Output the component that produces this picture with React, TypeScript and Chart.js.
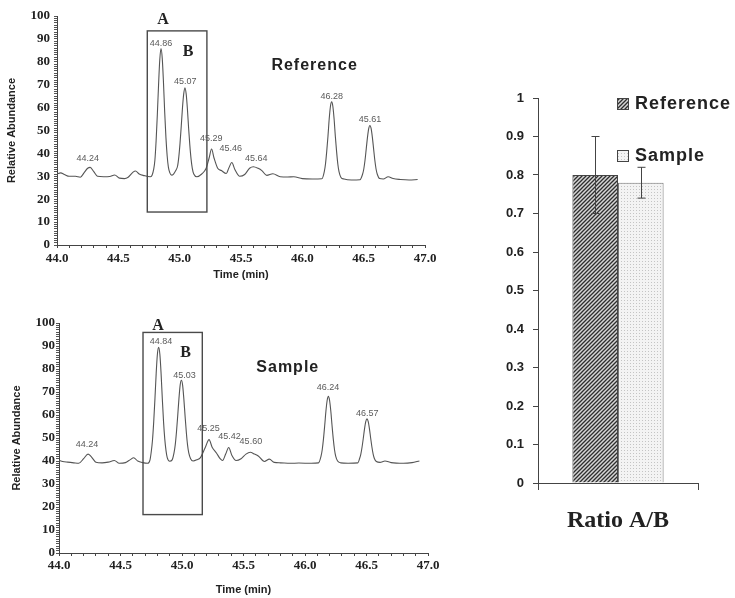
import { useEffect, useRef } from 'react';
import { Chart, registerables } from 'chart.js';

Chart.register(...registerables);

const SERIF = '"Liberation Serif", "Times New Roman", serif';
const SANS = '"Liberation Sans", Arial, sans-serif';

// ---------- Reference chromatogram: [time (min), relative abundance] ----------
const refTrace: number[][] = [
  [44.0, 31.0], [44.03, 31.5], [44.06, 30.8], [44.1, 30.0], [44.15, 30.0], [44.19, 29.6], [44.22, 31.5],
  [44.25, 33.5], [44.27, 33.9], [44.3, 32.0], [44.33, 30.0], [44.38, 29.8], [44.43, 29.9], [44.47, 30.6],
  [44.51, 29.2], [44.55, 29.0], [44.58, 29.6], [44.62, 31.8], [44.64, 32.3], [44.67, 31.0], [44.71, 30.3],
  [44.76, 29.8], [44.775, 30.5], [44.788, 33.0], [44.798, 37.0], [44.808, 45.5], [44.818, 57.0],
  [44.828, 70.0], [44.838, 81.0], [44.848, 85.8], [44.858, 81.5], [44.868, 71.0], [44.878, 58.0],
  [44.888, 47.0], [44.898, 39.0], [44.908, 34.0], [44.92, 31.5], [44.935, 30.5], [44.95, 31.0],
  [44.968, 32.5], [44.983, 34.5], [44.993, 38.5], [45.003, 44.5], [45.013, 52.0], [45.023, 60.0],
  [45.033, 66.0], [45.043, 68.7], [45.053, 66.0], [45.063, 59.5], [45.073, 51.0], [45.083, 43.5],
  [45.093, 37.5], [45.103, 33.5], [45.115, 31.0], [45.14, 29.8], [45.18, 31.0], [45.215, 33.4],
  [45.24, 38.0], [45.26, 41.9], [45.28, 38.0], [45.31, 33.5], [45.34, 32.5], [45.38, 31.2], [45.4, 33.5],
  [45.425, 36.0], [45.45, 33.0], [45.49, 30.0], [45.53, 30.8], [45.57, 33.5], [45.6, 34.2], [45.64, 33.5],
  [45.67, 32.5], [45.71, 30.4], [45.76, 31.1], [45.82, 29.8], [45.88, 29.7], [45.93, 29.8], [46.0, 29.0],
  [46.08, 28.8], [46.16, 28.9], [46.179, 32.0], [46.189, 35.5], [46.199, 41.0], [46.209, 47.5],
  [46.219, 55.0], [46.229, 60.5], [46.239, 62.5], [46.249, 60.5], [46.259, 55.0], [46.269, 47.5],
  [46.279, 41.0], [46.289, 35.5], [46.299, 32.0], [46.315, 29.5], [46.34, 28.8], [46.4, 28.4],
  [46.47, 28.5], [46.491, 30.9], [46.501, 33.2], [46.511, 37.0], [46.521, 42.0], [46.531, 47.0],
  [46.541, 50.8], [46.551, 52.2], [46.561, 50.8], [46.571, 47.0], [46.581, 42.0], [46.591, 37.0],
  [46.601, 33.2], [46.611, 30.9], [46.63, 29.0], [46.66, 28.8], [46.7, 29.8], [46.74, 29.0], [46.8, 28.6],
  [46.87, 28.4], [46.94, 28.6],
];
const refPeakText = ['44.24', '44.86', '45.07', '45.29', '45.46', '45.64', '46.28', '45.61'];
const refPeakTime = [44.25, 44.847, 45.045, 45.257, 45.417, 45.624, 46.24, 46.552];
const refPeakLevel = [37.8, 88.2, 71.5, 46.5, 42.2, 37.8, 65.0, 54.8];
const refBox = [44.736, 45.222, 14.4, 93.5];
const refLetterTime = [44.864, 45.068];
const refLetterLevel = [98.1, 84.2];
const refTitleAt = [46.1, 78.5];

// ---------- Sample chromatogram: [time (min), relative abundance] ----------
const sampleTrace: number[][] = [
  [44.0, 40.3], [44.03, 39.8], [44.07, 39.5], [44.12, 39.2], [44.16, 39.0], [44.2, 41.0], [44.236, 43.0],
  [44.26, 42.0], [44.3, 39.5], [44.35, 39.2], [44.4, 39.5], [44.45, 40.2], [44.49, 39.0], [44.54, 39.3],
  [44.58, 40.6], [44.607, 41.4], [44.64, 40.0], [44.68, 39.3], [44.72, 39.0], [44.74, 40.5], [44.75, 44.0],
  [44.76, 49.0], [44.77, 57.0], [44.78, 67.0], [44.79, 78.0], [44.8, 86.4], [44.81, 89.4], [44.82, 86.4],
  [44.83, 78.0], [44.84, 67.0], [44.85, 57.0], [44.86, 49.5], [44.87, 44.5], [44.88, 41.5], [44.9, 39.9],
  [44.92, 40.5], [44.935, 43.5], [44.945, 47.0], [44.955, 52.6], [44.965, 59.6], [44.975, 67.0],
  [44.985, 73.0], [44.995, 75.1], [45.005, 73.0], [45.015, 67.0], [45.025, 59.6], [45.035, 52.6],
  [45.045, 47.0], [45.055, 43.5], [45.07, 41.0], [45.09, 40.0], [45.12, 40.5], [45.15, 41.5], [45.19, 46.0],
  [45.22, 49.3], [45.245, 46.0], [45.28, 43.5], [45.31, 41.0], [45.33, 40.2], [45.355, 43.0], [45.38, 45.9],
  [45.405, 42.5], [45.44, 40.2], [45.48, 41.0], [45.52, 43.0], [45.555, 43.8], [45.59, 43.0], [45.62, 42.2],
  [45.67, 39.8], [45.71, 40.8], [45.75, 39.4], [45.8, 39.2], [45.88, 39.0], [45.95, 39.1], [46.05, 39.0],
  [46.11, 39.2], [46.13, 42.0], [46.14, 44.9], [46.15, 49.5], [46.16, 55.3], [46.17, 61.6], [46.18, 66.3],
  [46.19, 68.1], [46.2, 66.3], [46.21, 61.6], [46.22, 55.3], [46.23, 49.5], [46.24, 44.9], [46.25, 42.0],
  [46.265, 40.0], [46.29, 39.2], [46.35, 39.0], [46.43, 39.2], [46.444, 41.1], [46.454, 43.0],
  [46.464, 46.1], [46.474, 49.9], [46.484, 54.0], [46.494, 57.1], [46.504, 58.3], [46.514, 57.1],
  [46.524, 54.0], [46.534, 49.9], [46.544, 46.1], [46.554, 43.0], [46.564, 41.1], [46.58, 39.8],
  [46.61, 39.4], [46.65, 40.0], [46.7, 39.3], [46.8, 39.0], [46.87, 39.3], [46.93, 40.0],
];
const samplePeakText = ['44.24', '44.84', '45.03', '45.25', '45.42', '45.60', '46.24', '46.57'];
const samplePeakTime = [44.228, 44.83, 45.02, 45.215, 45.387, 45.56, 46.187, 46.507];
const samplePeakLevel = [47.1, 92.0, 77.1, 54.3, 50.6, 48.4, 72.0, 60.6];
const sampleBox = [44.683, 45.165, 16.7, 95.9];
const sampleLetterTime = [44.805, 45.03];
const sampleLetterLevel = [98.7, 87.0];
const sampleTitleAt = [45.86, 80.4];

const letters = ['A', 'B'];

// ---------- Ratio bar chart ----------
const barCategories = ['Ratio A/B'];
const ratioSeries = ['Reference', 'Sample'];
const ratioValues = [0.8, 0.78];
const ratioLow = [0.7, 0.74];
const ratioHigh = [0.9, 0.82];

function makeHatch(): CanvasPattern | string {
  const c = document.createElement('canvas');
  c.width = 4;
  c.height = 4;
  const g = c.getContext('2d');
  if (!g) return '#777';
  g.fillStyle = '#d6d6d6';
  g.fillRect(0, 0, 4, 4);
  g.strokeStyle = '#2e2e2e';
  g.lineWidth = 1.3;
  g.beginPath();
  g.moveTo(-1, 5); g.lineTo(5, -1);
  g.moveTo(-1, 1); g.lineTo(1, -1);
  g.moveTo(3, 5); g.lineTo(5, 3);
  g.stroke();
  return g.createPattern(c, 'repeat') || '#777';
}

function makeDots(): CanvasPattern | string {
  const c = document.createElement('canvas');
  c.width = 3;
  c.height = 3;
  const g = c.getContext('2d');
  if (!g) return '#e8e8e8';
  g.fillStyle = '#f3f3f3';
  g.fillRect(0, 0, 3, 3);
  g.fillStyle = '#c4c4c4';
  g.fillRect(1, 1, 1, 1);
  return g.createPattern(c, 'repeat') || '#e8e8e8';
}

type ChromProps = {
  left: number; top: number; width: number; height: number;
  trace: number[][];
  peakText: string[]; peakTime: number[]; peakLevel: number[];
  box: number[]; letterTime: number[]; letterLevel: number[];
  title: string; titleAt: number[];
  padTop: number; padRight: number; yWidth: number; xHeight: number;
  yTitlePad: number; yTickPad: number; xTickPad: number; xTitlePad: number;
};

function Chromatogram(p: ChromProps) {
  const ref = useRef<HTMLCanvasElement | null>(null);
  useEffect(() => {
    if (!ref.current) return;
    const overlay = {
      id: 'overlay',
      afterDatasetsDraw(chart: any) {
        const { ctx } = chart;
        const x = chart.scales.x;
        const y = chart.scales.y;
        ctx.save();
        const x0 = x.getPixelForValue(p.box[0]);
        const x1 = x.getPixelForValue(p.box[1]);
        const y0 = y.getPixelForValue(p.box[3]);
        const y1 = y.getPixelForValue(p.box[2]);
        ctx.strokeStyle = '#4a4a4a';
        ctx.lineWidth = 1.4;
        ctx.strokeRect(x0, y0, x1 - x0, y1 - y0);

        ctx.textAlign = 'center';
        ctx.textBaseline = 'middle';
        ctx.fillStyle = '#5a5a5a';
        ctx.font = `9px ${SANS}`;
        p.peakText.forEach((t, i) => {
          ctx.fillText(t, x.getPixelForValue(p.peakTime[i]), y.getPixelForValue(p.peakLevel[i]));
        });

        ctx.fillStyle = '#222';
        ctx.font = `bold 16px ${SERIF}`;
        letters.forEach((t, i) => {
          ctx.fillText(t, x.getPixelForValue(p.letterTime[i]), y.getPixelForValue(p.letterLevel[i]));
        });

        ctx.font = `bold 16px ${SANS}`;
        (ctx as any).letterSpacing = '1px';
        ctx.fillText(p.title, x.getPixelForValue(p.titleAt[0]), y.getPixelForValue(p.titleAt[1]));
        (ctx as any).letterSpacing = '0px';
        ctx.restore();
      },
    };
    const chart = new Chart(ref.current, {
      type: 'line',
      data: {
        datasets: [
          {
            data: p.trace.map((pt) => ({ x: pt[0], y: pt[1] })),
            borderColor: '#555',
            borderWidth: 1.1,
            pointRadius: 0,
            cubicInterpolationMode: 'monotone',
            fill: false,
          },
        ],
      },
      options: {
        animation: false,
        responsive: false,
        maintainAspectRatio: false,
        layout: { padding: { top: p.padTop, right: p.padRight, left: 0, bottom: 0 } },
        plugins: { legend: { display: false }, tooltip: { enabled: false } },
        scales: {
          x: {
            type: 'linear',
            min: 44,
            max: 47,
            afterFit: (s: any) => { s.height = p.xHeight; },
            ticks: {
              stepSize: 0.1,
              autoSkip: false,
              maxRotation: 0,
              padding: p.xTickPad,
              color: '#222',
              font: { family: SERIF, weight: 'bold', size: 13 },
              callback: (v: any) => {
                const r = Math.round(Number(v) * 10);
                return r % 5 === 0 ? (r / 10).toFixed(1) : '';
              },
            },
            grid: { drawOnChartArea: false, drawTicks: true, tickLength: 3, color: '#444' },
            border: { color: '#444', width: 1 },
            title: {
              display: true,
              text: 'Time (min)',
              color: '#222',
              font: { family: SANS, weight: 'bold', size: 11 },
              padding: { top: 0, bottom: p.xTitlePad },
            },
          },
          y: {
            min: 0,
            max: 100,
            afterFit: (s: any) => { s.width = p.yWidth; },
            ticks: {
              stepSize: 1,
              autoSkip: false,
              padding: p.yTickPad,
              color: '#222',
              font: { family: SERIF, weight: 'bold', size: 13 },
              callback: (v: any) => (Math.round(Number(v)) % 10 === 0 ? String(Math.round(Number(v))) : ''),
            },
            grid: { drawOnChartArea: false, drawTicks: true, tickLength: 3, color: '#555' },
            border: { color: '#444', width: 1 },
            title: {
              display: true,
              text: 'Relative Abundance',
              color: '#222',
              font: { family: SANS, weight: 'bold', size: 11 },
              padding: { top: p.yTitlePad, bottom: 0 },
            },
          },
        },
      } as any,
      plugins: [overlay],
    });
    return () => chart.destroy();
  }, []);
  return (
    <canvas
      ref={ref}
      width={p.width}
      height={p.height}
      style={{ position: 'absolute', left: p.left, top: p.top, width: p.width, height: p.height }}
    />
  );
}

function RatioChart() {
  const ref = useRef<HTMLCanvasElement | null>(null);
  useEffect(() => {
    if (!ref.current) return;
    const hatch = makeHatch();
    const dots = makeDots();
    const fills = [hatch, dots];
    const errorBars = {
      id: 'errorBars',
      afterDatasetsDraw(chart: any) {
        const { ctx } = chart;
        const y = chart.scales.y;
        ctx.save();
        ctx.strokeStyle = '#444';
        ctx.lineWidth = 1;
        chart.data.datasets.forEach((_d: any, i: number) => {
          const bar = chart.getDatasetMeta(i).data[0];
          const cx = Math.round(bar.x) + 0.5;
          const yl = y.getPixelForValue(ratioLow[i]);
          const yh = y.getPixelForValue(ratioHigh[i]);
          ctx.beginPath();
          ctx.moveTo(cx, yl); ctx.lineTo(cx, yh);
          ctx.moveTo(cx - 4, yh); ctx.lineTo(cx + 4, yh);
          ctx.moveTo(cx - 4, yl); ctx.lineTo(cx + 4, yl);
          ctx.stroke();
        });
        ctx.restore();
      },
    };
    const legend = {
      id: 'customLegend',
      afterDraw(chart: any) {
        const { ctx } = chart;
        ctx.save();
        const bx = 617 - 470;
        const rows = [98 - 80, 150 - 80];
        ratioSeries.forEach((name, i) => {
          ctx.fillStyle = fills[i] as any;
          ctx.fillRect(bx, rows[i], 11, 11);
          ctx.strokeStyle = '#444';
          ctx.lineWidth = 1;
          ctx.strokeRect(bx + 0.5, rows[i] + 0.5, 11, 11);
          ctx.fillStyle = '#222';
          ctx.font = `bold 18px ${SANS}`;
          (ctx as any).letterSpacing = '1px';
          ctx.textAlign = 'left';
          ctx.textBaseline = 'middle';
          ctx.fillText(name, bx + 18, rows[i] + 6);
          (ctx as any).letterSpacing = '0px';
        });
        ctx.restore();
      },
    };
    const chart = new Chart(ref.current, {
      type: 'bar',
      data: {
        labels: barCategories,
        datasets: ratioSeries.map((name, i) => ({
          label: name,
          data: [ratioValues[i]],
          backgroundColor: fills[i] as any,
          borderColor: i === 0 ? '#444' : '#777',
          borderWidth: 1,
          categoryPercentage: 0.57,
          barPercentage: 1,
        })),
      },
      options: {
        animation: false,
        responsive: false,
        maintainAspectRatio: false,
        layout: { padding: { top: 18, right: 37, left: 0, bottom: 0 } },
        plugins: { legend: { display: false }, tooltip: { enabled: false } },
        scales: {
          x: {
            afterFit: (s: any) => { s.height = 67; },
            ticks: {
              color: '#222',
              padding: 16,
              font: { family: SERIF, weight: 'bold', size: 24 },
            },
            grid: { offset: true, drawOnChartArea: false, tickLength: 7, color: '#444' },
            border: { color: '#444', width: 1 },
          },
          y: {
            min: 0,
            max: 1,
            afterFit: (s: any) => { s.width = 68; },
            ticks: {
              stepSize: 0.1,
              padding: 9,
              color: '#222',
              font: { family: SANS, weight: 'bold', size: 13 },
              callback: (v: any) => {
                const r = Math.round(Number(v) * 10);
                return r === 0 ? '0' : r === 10 ? '1' : (r / 10).toFixed(1);
              },
            },
            grid: { drawOnChartArea: false, tickLength: 5, color: '#444' },
            border: { color: '#444', width: 1 },
          },
        },
      } as any,
      plugins: [errorBars, legend],
    });
    return () => chart.destroy();
  }, []);
  return (
    <canvas
      ref={ref}
      width={265}
      height={470}
      style={{ position: 'absolute', left: 470, top: 80, width: 265, height: 470 }}
    />
  );
}

export default function App() {
  return (
    <div style={{ position: 'absolute', left: 0, top: 0, width: 735, height: 598, background: '#fff', overflow: 'hidden' }}>
      <Chromatogram
        left={0} top={0} width={440} height={285}
        trace={refTrace}
        peakText={refPeakText} peakTime={refPeakTime} peakLevel={refPeakLevel}
        box={refBox} letterTime={refLetterTime} letterLevel={refLetterLevel}
        title="Reference" titleAt={refTitleAt}
        padTop={16} padRight={15} yWidth={57} xHeight={40}
        yTitlePad={5} yTickPad={4} xTickPad={3} xTitlePad={3}
      />
      <Chromatogram
        left={0} top={300} width={445} height={298}
        trace={sampleTrace}
        peakText={samplePeakText} peakTime={samplePeakTime} peakLevel={samplePeakLevel}
        box={sampleBox} letterTime={sampleLetterTime} letterLevel={sampleLetterLevel}
        title="Sample" titleAt={sampleTitleAt}
        padTop={23} padRight={17} yWidth={59} xHeight={45}
        yTitlePad={10} yTickPad={1} xTickPad={2} xTitlePad={1}
      />
      <RatioChart />
    </div>
  );
}
